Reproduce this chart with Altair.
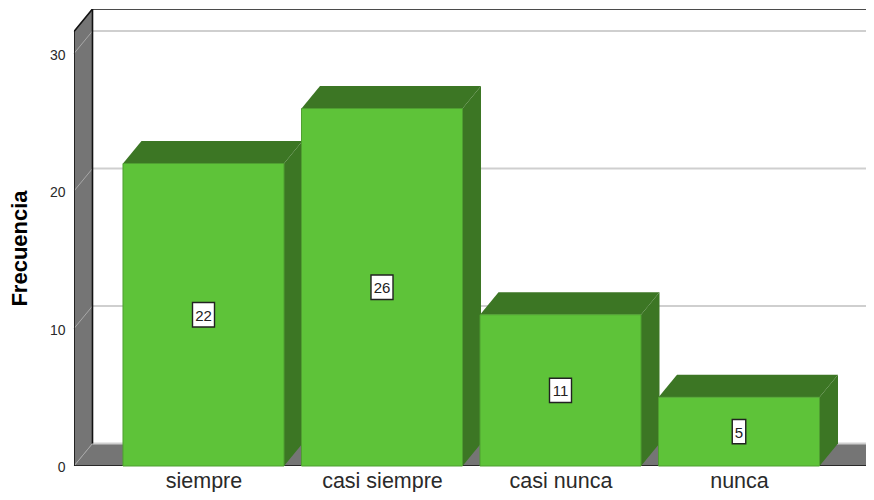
import altair as alt
import pandas as pd

categories = ["siempre", "casi siempre", "casi nunca", "nunca"]
values = [22, 26, 11, 5]
y_ticks = [0, 10, 20, 30]

FONT = "Liberation Sans"
FRONT = "#5ec339"
EDGE = "#4f9f31"
DARK = "#3c7624"
GRAY = "#757575"
GRID = "#cfcfcf"

# scale geometry
PX_Y = 13.75
PX_X = 178.5
W, H = 792, 457
x_lo = -129.5 / PX_X
x_hi = x_lo + W / PX_X
y_hi = H / PX_Y
dx = 18.5 / PX_X
dy = 22.5 / PX_Y
bar_half = 0.451
wall_top = y_hi - dy
floor_right = x_hi + 2 / PX_X

xs = alt.Scale(domain=[x_lo, x_hi], nice=False, zero=False)
ys = alt.Scale(domain=[0, y_hi], nice=False, zero=False)

label_expr = "[" + ",".join(f"'{c}'" for c in categories) + "][datum.value]"
X = alt.X("x:Q", scale=xs, title=None,
          axis=alt.Axis(values=list(range(len(categories))), domain=False, ticks=False, grid=False,
                        labelExpr=label_expr,
                        labelFont=FONT, labelFontSize=21.5, labelColor="#2a2a2a", labelPadding=4.5))
Y = alt.Y("y:Q", scale=ys, title="Frecuencia",
          axis=alt.Axis(values=y_ticks, domain=False, ticks=False, grid=False,
                        labelFont=FONT, labelFontSize=14, labelColor="#2a2a2a", labelPadding=9,
                        labelOffset=1.5,
                        titleFont=FONT, titleFontSize=22, titleFontWeight="bold", titleColor="#000000",
                        titleAngle=270, titleAlign="center", titleBaseline="middle",
                        titleX=-55, titleY=239))
Xp = alt.X("x:Q", scale=xs)
Yp = alt.Y("y:Q", scale=ys)
X2 = alt.X2("x2:Q")
Y2 = alt.Y2("y2:Q")

# left wall
wall = pd.DataFrame({"x": [x_lo, x_lo + dx], "y": [0, dy], "y2": [wall_top, wall_top + dy]})
wall_l = alt.Chart(wall).mark_area(color=GRAY, orient="vertical").encode(x=X, y=Y, y2=Y2)

# floor
floor = pd.DataFrame({"y": [0, dy], "x": [x_lo, x_lo + dx], "x2": [floor_right, floor_right + dx]})
floor_l = alt.Chart(floor).mark_area(color=GRAY, orient="horizontal", clip=True).encode(x=Xp, x2=X2, y=Yp)

# grid lines on the back and side walls
seg = []
for t in y_ticks:
    seg += [{"id": f"b{t}", "x": x_lo + dx, "y": t + dy}, {"id": f"b{t}", "x": x_hi, "y": t + dy}]
grid_back = alt.Chart(pd.DataFrame(seg)).mark_line(color=GRID, strokeWidth=2, clip=True).encode(
    x=Xp, y=Yp, detail="id:N")
seg = []
for t in y_ticks:
    seg += [{"id": f"s{t}", "x": x_lo, "y": t}, {"id": f"s{t}", "x": x_lo + dx, "y": t + dy}]
grid_side = alt.Chart(pd.DataFrame(seg)).mark_line(color="#a8a8a8", strokeWidth=1).encode(
    x=Xp, y=Yp, detail="id:N")

# frame outline
frame = [
    ("a", x_lo, 0), ("a", x_lo, wall_top),
    ("a", x_lo + dx, y_hi), ("a", x_hi, y_hi),
    ("b", x_lo + dx, dy), ("b", x_lo + dx, y_hi),
    ("c", x_lo, 0), ("c", floor_right, 0), ("c", floor_right + dx, dy),
]
frame_df = pd.DataFrame(frame, columns=["id", "x", "y"]).reset_index()
frame_l = alt.Chart(frame_df).mark_line(color="#111111", strokeWidth=1.6, clip=True).encode(
    x=Xp, y=Yp, detail="id:N", order="index:Q")

# bars
side_rows, top_rows, front_rows, box_rows = [], [], [], []
for i, v in enumerate(values):
    r = i + bar_half
    l = i - bar_half
    side_rows += [{"id": i, "x": r, "y": 0, "y2": v}, {"id": i, "x": r + dx, "y": dy, "y2": v + dy}]
    top_rows += [{"id": i, "y": v, "x": l, "x2": r}, {"id": i, "y": v + dy, "x": l + dx, "x2": r + dx}]
    front_rows.append({"x": l, "x2": r, "y": 0, "y2": v})
    half_w = (len(str(v)) * 8.5 + 5) / 2 / PX_X
    half_h = 12.2 / PX_Y
    box_rows.append({"x": i - half_w, "x2": i + half_w, "y": v / 2 - half_h, "y2": v / 2 + half_h,
                     "cx": i, "cy": v / 2, "label": str(v)})

side_l = alt.Chart(pd.DataFrame(side_rows)).mark_area(color=DARK, orient="vertical").encode(
    x=Xp, y=Yp, y2=Y2, detail="id:N")
top_l = alt.Chart(pd.DataFrame(top_rows)).mark_area(color=DARK, orient="horizontal").encode(
    x=Xp, x2=X2, y=Yp, detail="id:N")
front_l = alt.Chart(pd.DataFrame(front_rows)).mark_rect(color=FRONT, stroke=EDGE, strokeWidth=1).encode(
    x=Xp, x2=X2, y=Yp, y2=Y2)

box_df = pd.DataFrame(box_rows)
box_l = alt.Chart(box_df).mark_rect(color="#ffffff", stroke="#222222", strokeWidth=1.4).encode(
    x=Xp, x2=X2, y=Yp, y2=Y2)
text_l = alt.Chart(box_df).mark_text(font=FONT, fontSize=15, color="#222222", baseline="middle", dy=1).encode(
    x=alt.X("cx:Q", scale=xs), y=alt.Y("cy:Q", scale=ys), text="label:N")

chart = alt.layer(
    wall_l, floor_l, grid_back, grid_side, frame_l,
    side_l, top_l, front_l, box_l, text_l,
).properties(
    width=W, height=H,
    autosize=alt.AutoSizeParams(type="none"),
    padding={"left": 66, "top": 1, "right": 0, "bottom": 26},
).configure_view(stroke=None)

chart.save("out.html", embed_options={"renderer": "svg", "actions": False})
